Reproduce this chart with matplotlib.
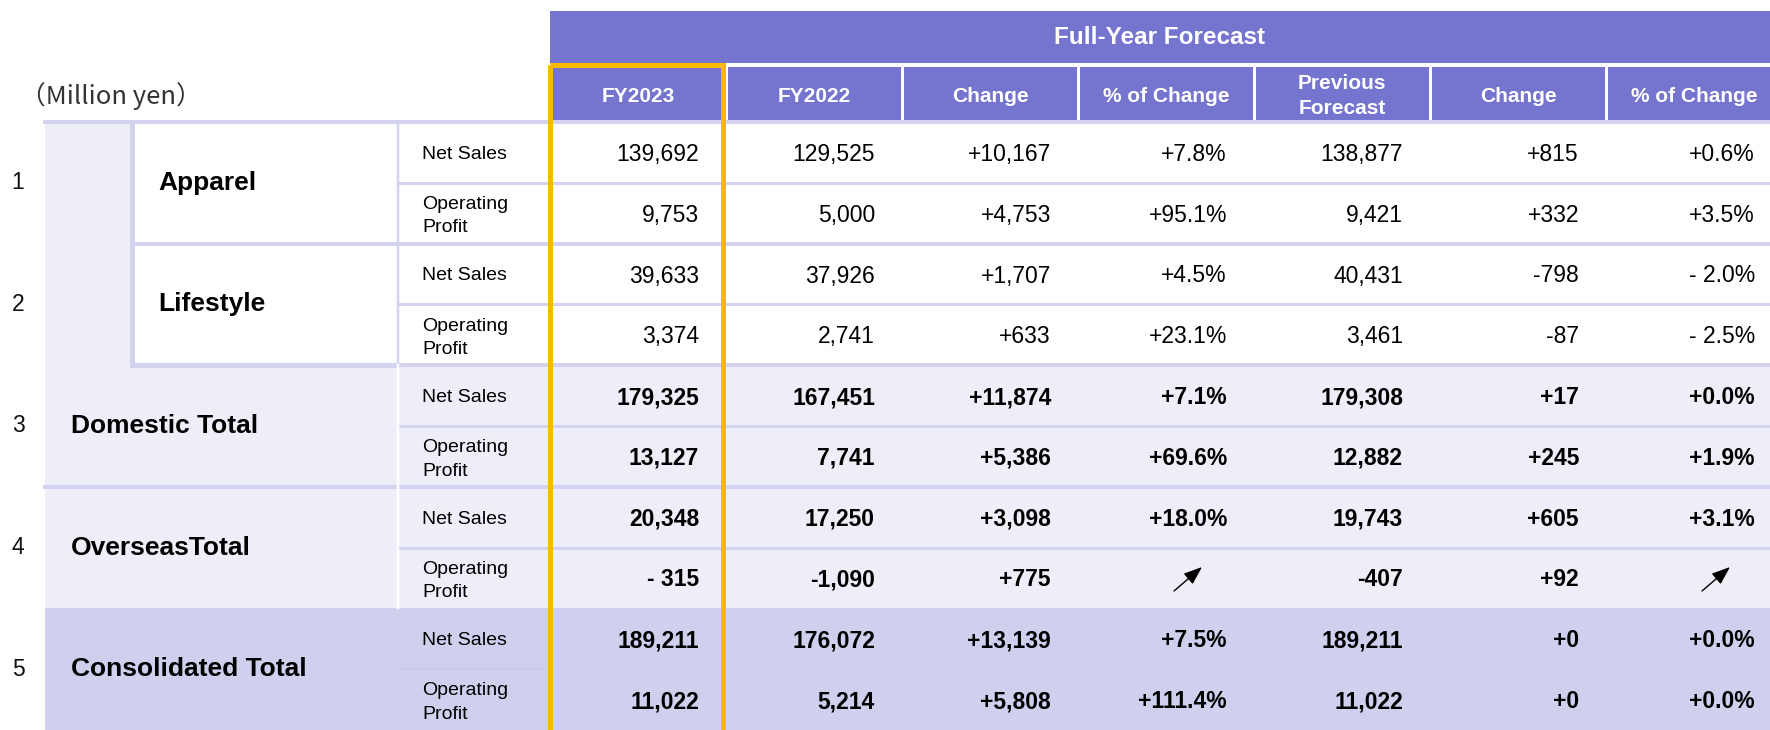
import matplotlib.pyplot as plt
from matplotlib.patches import Rectangle

# ---- data ----
segments = ['Apparel', 'Lifestyle', 'Domestic Total', 'OverseasTotal', 'Consolidated Total']
metrics = ['Net Sales', 'Operating\nProfit']
columns = ['FY2023', 'FY2022', 'Change', '% of Change', 'Previous\nForecast', 'Change', '% of Change']
group_title = 'Full-Year Forecast'
unit_label = '\uff08Million yen\uff09'

# one entry per sub-row (segment x metric); None = arrow (not meaningful)
fy2023 = ['139,692', '9,753', '39,633', '3,374', '179,325', '13,127', '20,348', '- 315', '189,211', '11,022']
fy2022 = ['129,525', '5,000', '37,926', '2,741', '167,451', '7,741', '17,250', '-1,090', '176,072', '5,214']
change = ['+10,167', '+4,753', '+1,707', '+633', '+11,874', '+5,386', '+3,098', '+775', '+13,139', '+5,808']
pct_change = ['+7.8%', '+95.1%', '+4.5%', '+23.1%', '+7.1%', '+69.6%', '+18.0%', None, '+7.5%', '+111.4%']
prev_forecast = ['138,877', '9,421', '40,431', '3,461', '179,308', '12,882', '19,743', '-407', '189,211', '11,022']
change_prev = ['+815', '+332', '-798', '-87', '+17', '+245', '+605', '+92', '+0', '+0']
pct_prev = ['+0.6%', '+3.5%', '- 2.0%', '- 2.5%', '+0.0%', '+1.9%', '+3.1%', None, '+0.0%', '+0.0%']
table = [fy2023, fy2022, change, pct_change, prev_forecast, change_prev, pct_prev]

# ---- styling ----
PURPLE = '#7574CF'
LIGHT = '#EEEEF8'
MID = '#CFCFEE'
LINE = '#D3D3F0'
ORANGE = '#F8B900'
FONT = ['Liberation Sans', 'DejaVu Sans', 'Noto Sans CJK JP']
plt.rcParams['font.family'] = FONT

W, H = 1770, 730
fig = plt.figure(figsize=(W / 100, H / 100), dpi=100)
ax = fig.add_axes([0, 0, 1, 1])
ax.set_xlim(0, W)
ax.set_ylim(H, 0)
ax.axis('off')

px = 0.72  # one pixel in points

# layout
x_outer, x_box, x_sub, x_data = 45, 132, 398, 550
col_w = 176
top_y = 122
row_h = (H - top_y) / 10
ncols = len(columns)

def col_left(j):
    return x_data + j * col_w

def row_top(i):
    return top_y + i * row_h

# header
ax.add_patch(Rectangle((x_data, 11), W - x_data, 52, color=PURPLE, lw=0))
ax.text((x_data + W) / 2, 38, group_title, color='white', fontsize=17.5,
        fontweight='bold', ha='center', va='center')
for j, name in enumerate(columns):
    left = col_left(j) + (0 if j == 0 else 1.5)
    right = min(col_left(j + 1) - 1.5, W)
    ax.add_patch(Rectangle((left, 67), right - left, top_y - 67, color=PURPLE, lw=0))
    ax.text(col_left(j) + col_w / 2, 96, name, color='white', fontsize=15,
            fontweight='bold', ha='center', va='center', linespacing=1.4)
ax.text(20, 96, unit_label, fontsize=18.5, color='#333333', ha='left', va='center',
        family=['Noto Sans CJK JP', 'DejaVu Sans'])

# body backgrounds
ax.add_patch(Rectangle((x_outer, top_y), x_box - x_outer, row_top(4) - top_y, color=LIGHT, lw=0))
ax.add_patch(Rectangle((x_outer, row_top(4)), W - x_outer, row_top(8) - row_top(4), color=LIGHT, lw=0))
ax.add_patch(Rectangle((x_outer, row_top(8)), W - x_outer, H - row_top(8), color=MID, lw=0))

# lines
ax.plot([x_outer, W], [top_y, top_y], color=LINE, lw=4 * px)
for g in range(5):
    y0 = row_top(2 * g)
    ymid = row_top(2 * g + 1)
    if g < 4:
        ax.plot([x_sub, W], [ymid, ymid], color=LINE, lw=3 * px)
    if g in (1, 2):
        ax.plot([x_box, W], [y0, y0], color=LINE, lw=4 * px)
    if g == 3:
        ax.plot([x_outer, W], [y0, y0], color=LINE, lw=4 * px)
ax.plot([x_box, x_box], [top_y, row_top(4)], color=LINE, lw=5 * px)
ax.plot([x_box, x_sub], [row_top(4), row_top(4)], color=LINE, lw=5 * px)
ax.plot([x_sub, x_sub], [top_y, row_top(4)], color=LINE, lw=2.5 * px)
ax.plot([x_sub, x_sub], [row_top(4), row_top(8)], color='white', lw=2.5 * px)
ax.plot([x_sub, x_data], [row_top(9), row_top(9)], color='#C9C9EA', lw=1.5 * px)

# left labels
for g, seg in enumerate(segments):
    yc = row_top(2 * g + 1)
    ax.text(18, yc, str(g + 1), fontsize=16.5, ha='center', va='center', color='#111111')
    xl = 158 if g < 2 else 71
    ax.text(xl, yc, seg, fontsize=19, fontweight='bold', ha='left', va='center')
    for k, m in enumerate(metrics):
        ax.text(422, row_top(2 * g + k) + row_h / 2 + (3 if k else 2), m, fontsize=14,
                ha='left', va='center', linespacing=1.5)

# values
for j, values in enumerate(table):
    xr = col_left(j) + col_w - 27
    for i, v in enumerate(values):
        yc = row_top(i) + row_h / 2 + 2
        if v is None:
            ax.annotate('', xy=(col_left(j) + col_w - 52, yc - 13),
                        xytext=(col_left(j) + col_w - 80, yc + 11),
                        arrowprops=dict(arrowstyle='-|>,head_length=0.8,head_width=0.3',
                                        color='black', lw=1.0,
                                        mutation_scale=14, shrinkA=0, shrinkB=0))
            continue
        ax.text(xr, yc, v, fontsize=16.5, ha='right', va='center',
                fontweight='bold' if i >= 4 else 'normal')

# highlight box around FY2023
ax.add_patch(Rectangle((x_data, 65), col_w - 3, H, fill=False, edgecolor=ORANGE,
                       lw=5 * px, zorder=5))

fig.savefig('out.png', dpi=100)
